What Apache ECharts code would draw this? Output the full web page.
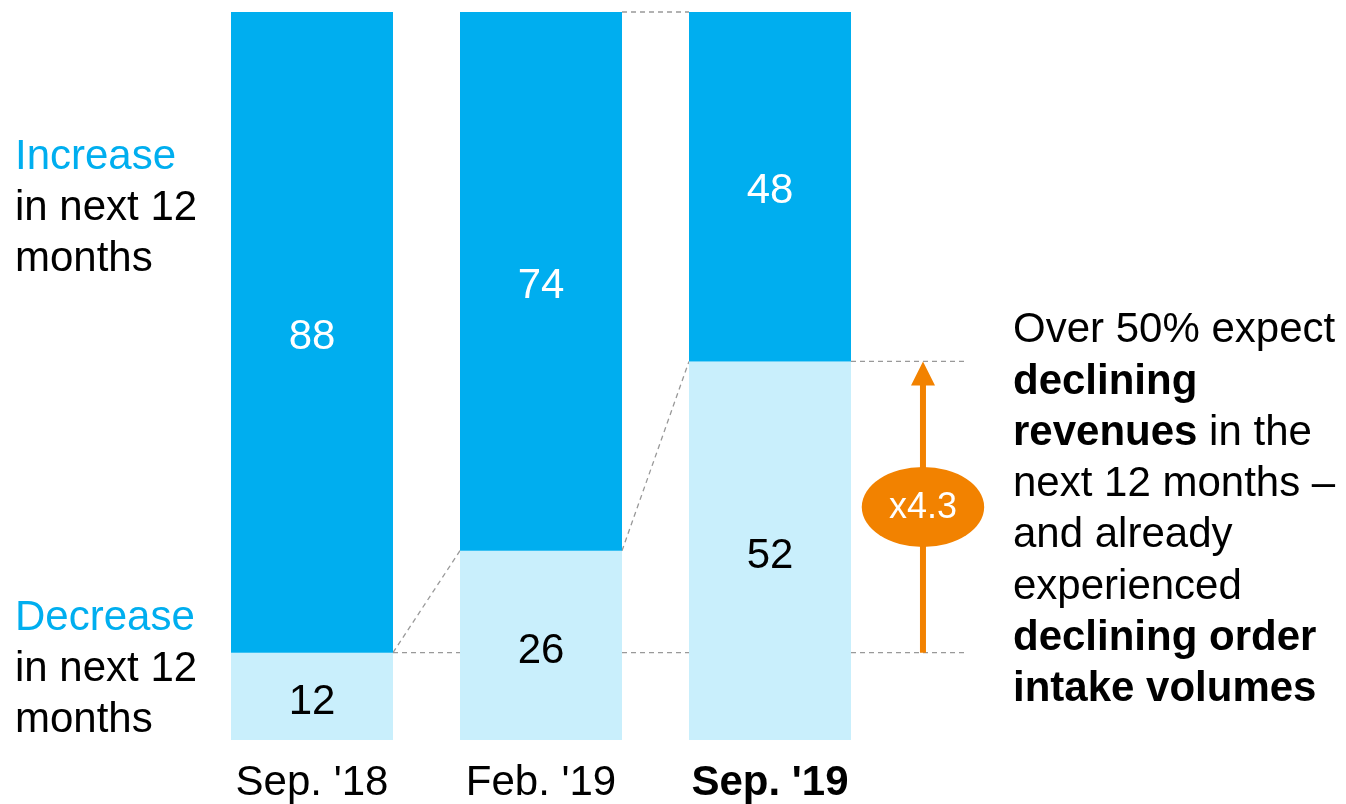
<!DOCTYPE html>
<html>
<head>
<meta charset="utf-8">
<script src="https://cdn.jsdelivr.net/npm/echarts@6/dist/echarts.min.js"></script>
<style>
  html, body { margin: 0; padding: 0; background: #fff; }
  #chart { width: 1346px; height: 804px; }
</style>
</head>
<body>
<div id="chart"></div>
<script>
// Survey waves and share of respondents (%)
const categories = ["Sep. '18", "Feb. '19", "Sep. '19"];
const decrease = [12, 26, 52];
const increase = [88, 74, 48];
const multiplier = 'x4.3';

const DARK = '#00AEEF';
const LIGHT = '#C9EFFC';
const ORANGE = '#F28200';
const FONT = '"Liberation Sans", Arial, sans-serif';
const FS = 42;

const chart = echarts.init(document.getElementById('chart'));

const barWidth = 162;

chart.setOption({
  animation: false,
  grid: { left: 197.5, right: 461.5, top: 12, bottom: 64 },
  xAxis: {
    type: 'category',
    data: categories,
    axisLine: { show: false },
    axisTick: { show: false },
    axisLabel: {
      interval: 0,
      margin: 22,
      fontFamily: FONT,
      fontSize: FS,
      color: '#000',
      formatter: (v, i) => i === 2 ? '{b|' + v + '}' : v,
      rich: { b: { fontFamily: FONT, fontSize: FS, fontWeight: 'bold', color: '#000' } }
    }
  },
  yAxis: { type: 'value', min: 0, max: 100, show: false, splitLine: { show: false } },
  series: [
    {
      name: 'Decrease',
      type: 'bar',
      stack: 'all',
      barWidth: barWidth,
      data: decrease,
      itemStyle: { color: LIGHT },
      z: 3,
      label: { show: true, position: 'inside', offset: [0, 6], fontFamily: FONT, fontSize: FS, color: '#000' }
    },
    {
      name: 'Increase',
      type: 'bar',
      stack: 'all',
      barWidth: barWidth,
      data: increase,
      itemStyle: { color: DARK },
      z: 3,
      label: { show: true, position: 'inside', offset: [0, 5], fontFamily: FONT, fontSize: FS, color: '#fff' }
    }
  ]
});

// Connectors, arrow and annotations placed through the chart's own scales
function px(i, v) { return chart.convertToPixel({ gridIndex: 0 }, [i, v]); }
const band = px(1, 0)[0] - px(0, 0)[0];
const half = barWidth / 2;
function rightEdge(i, v) { const p = px(i, v); return [p[0] + half, p[1]]; }
function leftEdge(i, v) { const p = px(i, v); return [p[0] - half, p[1]]; }

const dash = { stroke: '#999', lineWidth: 1.3, lineDash: [5, 4] };
function seg(a, b) {
  return { type: 'line', z: 1, shape: { x1: a[0], y1: a[1], x2: b[0], y2: b[1] }, style: dash, silent: true };
}

const last = px(2, 0)[0];
const arrowX = last + 0.668 * band;
const extX = last + 0.85 * band;
const yLow = px(2, decrease[0])[1];
const yHigh = px(2, decrease[2])[1];
const yMid = px(2, (decrease[0] + decrease[2]) / 2)[1];

const graphics = [
  seg(rightEdge(0, decrease[0]), leftEdge(1, decrease[1])),
  seg(rightEdge(0, decrease[0]), leftEdge(1, decrease[0])),
  seg(rightEdge(1, decrease[0]), leftEdge(2, decrease[0])),
  seg(rightEdge(1, decrease[1]), leftEdge(2, decrease[2])),
  seg(rightEdge(1, 100), leftEdge(2, 100)),
  seg(rightEdge(2, decrease[0]), [extX, yLow]),
  seg(rightEdge(2, decrease[2]), [extX, yHigh]),
  // arrow shaft
  { type: 'line', z: 5, shape: { x1: arrowX, y1: yLow, x2: arrowX, y2: yHigh + 20 },
    style: { stroke: ORANGE, lineWidth: 6 } },
  // arrow head
  { type: 'polygon', z: 5, shape: { points: [[arrowX, yHigh], [arrowX - 12, yHigh + 24], [arrowX + 12, yHigh + 24]] },
    style: { fill: ORANGE } },
  // multiplier badge
  { type: 'circle', z: 6, x: arrowX, y: yMid, scaleX: 1.53,
    shape: { cx: 0, cy: 0, r: 40 }, style: { fill: ORANGE } },
  { type: 'text', z: 7, x: arrowX, y: yMid + 1,
    style: { text: multiplier, fill: '#fff', font: '36px ' + FONT, textAlign: 'center', textVerticalAlign: 'middle' } },
  // left legend texts
  { type: 'text', left: 15, top: 132,
    style: { text: '{c|Increase}\nin next 12\nmonths', fill: '#000', font: FS + 'px ' + FONT, lineHeight: 51,
      rich: { c: { fill: DARK, font: FS + 'px ' + FONT, lineHeight: 51 } } } },
  { type: 'text', left: 15, top: 593,
    style: { text: '{c|Decrease}\nin next 12\nmonths', fill: '#000', font: FS + 'px ' + FONT, lineHeight: 51,
      rich: { c: { fill: DARK, font: FS + 'px ' + FONT, lineHeight: 51 } } } },
  // right annotation
  { type: 'text', left: 1013, top: 305,
    style: {
      text: 'Over 50% expect\n{b|declining}\n{b|revenues} in the\nnext 12 months –\nand already\nexperienced\n{b|declining order}\n{b|intake volumes}',
      fill: '#000', font: FS + 'px ' + FONT, lineHeight: 51.3,
      rich: { b: { fontFamily: FONT, fontSize: FS, fontWeight: 'bold', lineHeight: 51.3 } }
    } }
];

chart.setOption({ graphic: graphics });
</script>
</body>
</html>
